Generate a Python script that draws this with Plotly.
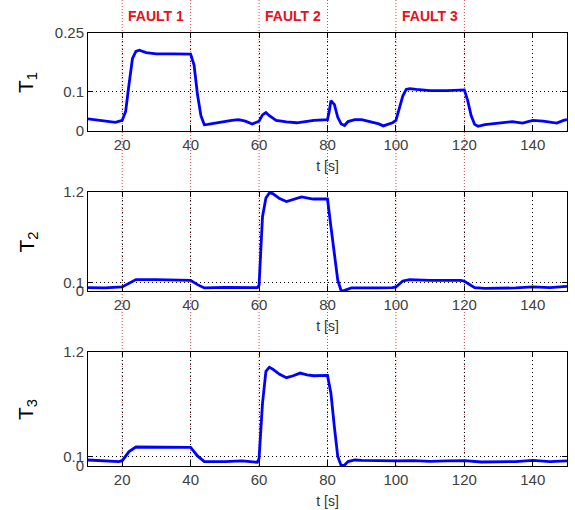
import plotly.graph_objects as go

# ---------------- data ----------------
t1 = [10, 15, 18, 20, 21, 22, 23, 24, 25, 27, 30, 35, 40, 41, 42, 43, 44, 45, 48, 52, 54, 56, 58, 60,
      61, 62, 63, 65, 68, 71, 76, 80, 80.5, 81, 82, 83, 84, 85, 86, 88, 90, 92, 95, 96.3, 99, 100,
      101, 102, 103, 104, 106, 110, 115, 120, 121, 122, 123, 124, 126, 130, 134, 137, 140, 143, 147, 149, 150]
T1 = [0.031, 0.025, 0.022, 0.027, 0.05, 0.12, 0.185, 0.203, 0.206, 0.2, 0.197, 0.197, 0.196, 0.168, 0.093,
      0.039, 0.016, 0.017, 0.022, 0.027, 0.029, 0.025, 0.018, 0.025,
      0.041, 0.047, 0.039, 0.027, 0.023, 0.021, 0.027, 0.029, 0.05, 0.077, 0.068, 0.035, 0.018, 0.014,
      0.024, 0.029, 0.029, 0.025, 0.018, 0.013, 0.021, 0.027,
      0.06, 0.089, 0.106, 0.108, 0.106, 0.103, 0.103, 0.105, 0.077, 0.039, 0.017, 0.012, 0.016, 0.02,
      0.024, 0.02, 0.027, 0.025, 0.02, 0.027, 0.029]

t2 = [10, 15, 20, 22, 24, 30, 38, 40, 42, 44, 50, 55, 59.5, 60, 61, 62, 63, 64, 66, 68, 70, 72.4, 75.8,
      80, 81, 82, 83, 84, 85, 87, 90, 95, 99, 100, 102, 104, 110, 115, 119, 120, 122, 123, 126, 130,
      135, 140, 145, 150]
T2 = [0.04, 0.037, 0.049, 0.098, 0.138, 0.138, 0.138, 0.13, 0.077, 0.037, 0.045, 0.041, 0.04, 0.07,
      0.9, 1.127, 1.188, 1.18, 1.12, 1.085, 1.107, 1.14, 1.115,
      1.115, 0.78, 0.415, 0.13, 0.0, 0.008, 0.037, 0.04, 0.037, 0.04, 0.049, 0.122, 0.138, 0.13, 0.126,
      0.13, 0.118, 0.069, 0.04, 0.033, 0.033, 0.037, 0.049, 0.041, 0.057]

t3 = [10, 15, 19, 20, 22, 24, 30, 40, 42, 44, 50, 55, 59.5, 60, 61, 62, 63, 64, 66, 68, 70, 72, 74, 76,
      80, 81, 82, 83, 84, 85, 86, 88, 90, 95, 100, 105, 110, 115, 120, 125, 130, 135, 140, 145, 150]
T3 = [0.063, 0.053, 0.046, 0.056, 0.151, 0.2, 0.2, 0.197, 0.106, 0.046, 0.046, 0.053, 0.039, 0.08,
      0.66, 0.996, 1.04, 1.02, 0.965, 0.93, 0.95, 0.978, 0.96, 0.95,
      0.954, 0.767, 0.415, 0.1, 0.004, 0.01, 0.046, 0.063, 0.06, 0.053, 0.053, 0.056, 0.049, 0.053,
      0.056, 0.042, 0.042, 0.046, 0.06, 0.046, 0.053]

x_ticks = [20, 40, 60, 80, 100, 120, 140]
y1_ticks = [0, 0.1, 0.25]
y1_labels = ["0", "0.1", "0.25"]
y23_ticks = [0, 0.1, 1.2]
y23_labels = ["0", "0.1", "1.2"]
fault_times = [20, 40, 60, 80, 100, 120]
fault_labels = ["FAULT 1", "FAULT 2", "FAULT 3"]
fault_centers = [30, 70, 110]
y_titles = ["T<sub>1</sub>", "T<sub>2</sub>", "T<sub>3</sub>"]

# ---------------- figure ----------------
W, H = 575, 510
def py(px):
    return 1 - px / H

fig = go.Figure()
series = [(t1, T1), (t2, T2), (t3, T3)]
axes = [("x", "y"), ("x2", "y2"), ("x3", "y3")]
for (tt, vv), (xa, ya) in zip(series, axes):
    fig.add_trace(go.Scatter(x=tt, y=vv, mode="lines", xaxis=xa, yaxis=ya,
                             line=dict(color="#0000FF", width=2.8), showlegend=False))

xdom = [88 / W, 567 / W]
panels = [(33, 131), (192, 291), (352, 466)]
FONT = "Arial, Liberation Sans, sans-serif"
tickfont = dict(family=FONT, size=15, color="#404040")

common_x = dict(range=[10, 150], tickvals=x_ticks, ticks="inside", ticklen=5, tickcolor="black",
                showline=True, linecolor="black", linewidth=1, mirror="allticks",
                showgrid=True, gridcolor="black", griddash="1px,3px", gridwidth=1,
                zeroline=False, tickfont=tickfont, domain=xdom, automargin=False,
                title=dict(text="t [s]", font=dict(family=FONT, size=14, color="#333333"), standoff=9))
common_y = dict(ticks="inside", ticklen=5, tickcolor="black",
                showline=True, linecolor="black", linewidth=1, mirror="allticks",
                showgrid=True, gridcolor="black", griddash="1px,3px", gridwidth=1,
                zeroline=False, tickfont=tickfont, automargin=False)

layout = dict(width=W, height=H, margin=dict(l=0, r=0, t=0, b=0, autoexpand=False),
              paper_bgcolor="white", plot_bgcolor="white")
for i, (top, bot) in enumerate(panels):
    sfx = "" if i == 0 else str(i + 1)
    xa = dict(common_x, anchor="y" + sfx)
    ya = dict(common_y, anchor="x" + sfx, domain=[py(bot), py(top)])
    if i == 0:
        ya.update(range=[0, 0.25], tickvals=y1_ticks, ticktext=y1_labels)
    else:
        ya.update(range=[0, 1.2], tickvals=y23_ticks, ticktext=y23_labels)
    layout["xaxis" + sfx] = xa
    layout["yaxis" + sfx] = ya
fig.update_layout(**layout)

# red dotted fault lines
for ft in fault_times:
    fig.add_shape(type="line", xref="x", yref="paper", x0=ft, x1=ft, y0=py(466), y1=1,
                  line=dict(color="#E04848", width=1, dash="1px,2px"), layer="below")

# fault labels
for lab, c in zip(fault_labels, fault_centers):
    fig.add_annotation(x=c, y=py(16), xref="x", yref="paper", text="<b>" + lab + "</b>",
                       xanchor="center", yanchor="middle", showarrow=False,
                       font=dict(family=FONT, size=14, color="#E8101A"))

# y titles
for lab, (top, bot) in zip(y_titles, panels):
    fig.add_annotation(x=27 / W, y=py((top + bot) / 2), xref="paper", yref="paper", text=lab,
                       textangle=-90, showarrow=False, xanchor="center", yanchor="middle",
                       font=dict(family=FONT, size=21, color="black"))

fig.write_html("out.html")
